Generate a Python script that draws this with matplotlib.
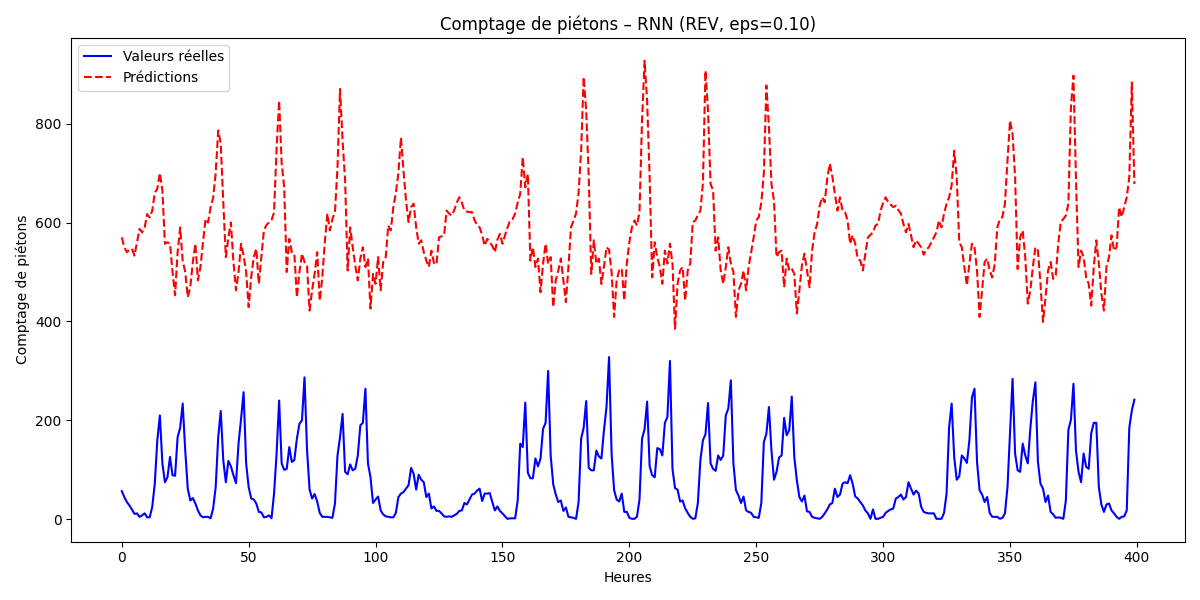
import numpy as np
import matplotlib
matplotlib.use("Agg")
import matplotlib.pyplot as plt

# valeurs (une valeur par heure, 0..399)
reel = [
  57, 45, 35, 28, 20, 11, 12, 5, 8, 12, 4, 4, 25, 72, 160, 210, 113, 75, 85, 126,
  89, 88, 166, 185, 234, 139, 62, 38, 43, 32, 18, 8, 4, 5, 5, 2, 22, 65, 166, 219,
  119, 75, 118, 107, 89, 73, 153, 203, 257, 113, 65, 42, 40, 32, 15, 14, 4, 5, 8, 2,
  52, 133, 240, 113, 100, 102, 146, 116, 120, 163, 193, 200, 287, 140, 60, 42, 51, 36, 13, 5,
  5, 5, 4, 3, 32, 129, 166, 213, 96, 91, 111, 99, 102, 129, 190, 195, 264, 113, 85, 33,
  40, 46, 18, 10, 6, 5, 4, 4, 13, 45, 52, 55, 62, 69, 104, 92, 60, 90, 80, 75,
  45, 52, 22, 26, 17, 17, 12, 6, 5, 6, 5, 8, 11, 17, 18, 33, 30, 40, 50, 52,
  58, 62, 37, 52, 52, 53, 35, 18, 26, 17, 12, 6, 1, 2, 2, 2, 38, 153, 146, 236,
  94, 83, 83, 123, 107, 123, 183, 195, 300, 129, 71, 50, 35, 38, 17, 24, 5, 4, 3, 1,
  35, 163, 185, 239, 104, 99, 99, 139, 127, 123, 180, 227, 328, 133, 59, 40, 36, 52, 15, 15,
  3, 1, 1, 5, 40, 163, 182, 238, 107, 89, 85, 144, 142, 129, 195, 207, 320, 102, 63, 60,
  36, 38, 22, 13, 5, 1, 2, 33, 120, 160, 172, 235, 113, 102, 98, 129, 120, 129, 210, 224,
  281, 113, 59, 48, 33, 46, 18, 15, 13, 5, 4, 3, 33, 156, 173, 227, 139, 80, 96, 125,
  129, 205, 170, 180, 248, 126, 79, 45, 36, 48, 16, 15, 5, 3, 2, 1, 5, 12, 20, 30,
  33, 62, 45, 50, 72, 75, 73, 89, 72, 46, 42, 35, 28, 18, 12, 1, 20, 1, 1, 3,
  5, 13, 17, 20, 22, 42, 45, 50, 40, 45, 75, 62, 50, 58, 52, 25, 15, 13, 12, 12,
  12, 1, 1, 1, 13, 52, 186, 234, 126, 80, 87, 129, 123, 114, 160, 246, 264, 116, 59, 50,
  35, 45, 13, 5, 5, 5, 1, 3, 12, 65, 173, 284, 133, 99, 96, 153, 129, 113, 183, 240,
  277, 116, 72, 62, 35, 48, 15, 10, 3, 4, 3, 1, 38, 181, 201, 274, 139, 96, 75, 133,
  106, 102, 174, 195, 195, 65, 30, 15, 30, 32, 18, 12, 5, 1, 5, 6, 18, 185, 220, 242,
]

predit = [
  570, 550, 540, 545, 547, 533, 560, 587, 580, 590, 617, 610, 624, 660, 668, 700, 665, 557, 560, 557,
  500, 453, 540, 590, 523, 500, 449, 470, 520, 557, 483, 510, 560, 607, 600, 631, 650, 700, 786, 759,
  640, 530, 570, 600, 520, 463, 500, 557, 533, 500, 429, 490, 530, 547, 476, 530, 584, 595, 600, 605,
  620, 750, 846, 720, 671, 500, 567, 540, 537, 449, 500, 537, 520, 512, 422, 463, 496, 540, 442, 489,
  560, 618, 584, 607, 621, 712, 870, 766, 685, 503, 590, 550, 513, 483, 527, 550, 510, 527, 426, 496,
  476, 530, 463, 520, 530, 594, 584, 631, 660, 700, 772, 705, 644, 601, 631, 638, 590, 557, 564, 540,
  523, 510, 543, 518, 515, 570, 572, 574, 624, 618, 614, 625, 640, 651, 640, 624, 622, 621, 621, 605,
  595, 590, 575, 553, 567, 560, 553, 540, 565, 577, 557, 574, 590, 604, 607, 618, 640, 658, 732, 671,
  698, 523, 550, 510, 527, 459, 517, 557, 517, 530, 429, 483, 503, 527, 483, 439, 510, 590, 604, 618,
  660, 745, 894, 826, 692, 496, 564, 517, 527, 476, 510, 550, 545, 500, 409, 483, 503, 507, 442, 517,
  560, 590, 604, 594, 621, 806, 927, 846, 692, 489, 560, 530, 510, 476, 543, 517, 557, 517, 385, 476,
  503, 510, 442, 503, 517, 601, 604, 615, 624, 680, 907, 826, 678, 665, 543, 570, 503, 476, 510, 550,
  517, 500, 409, 463, 476, 503, 463, 510, 540, 570, 604, 611, 640, 700, 877, 793, 678, 644, 530, 540,
  543, 469, 527, 503, 507, 496, 416, 463, 513, 537, 503, 469, 543, 580, 597, 634, 651, 641, 690, 719,
  692, 658, 624, 651, 624, 621, 604, 557, 574, 557, 527, 523, 503, 537, 570, 575, 580, 594, 597, 624,
  640, 651, 641, 636, 631, 634, 625, 618, 597, 580, 597, 574, 550, 564, 557, 550, 535, 545, 550, 560,
  570, 580, 604, 590, 618, 638, 651, 675, 745, 692, 560, 550, 510, 473, 517, 557, 550, 503, 409, 463,
  520, 527, 503, 489, 517, 590, 607, 611, 638, 725, 806, 779, 692, 506, 570, 584, 530, 436, 463, 510,
  550, 543, 476, 399, 449, 503, 520, 486, 493, 557, 601, 607, 614, 638, 833, 897, 685, 510, 543, 530,
  489, 476, 432, 510, 564, 517, 456, 422, 510, 530, 574, 543, 550, 631, 611, 631, 651, 692, 883, 678,
]

heures = np.arange(len(reel))

fig, ax = plt.subplots(figsize=(12, 6), dpi=100)
ax.plot(heures, reel, color="blue", label="Valeurs réelles")
ax.plot(heures, predit, "r--", label="Prédictions")
ax.set_title("Comptage de piétons – RNN (REV, eps=0.10)")
ax.set_xlabel("Heures")
ax.set_ylabel("Comptage de piétons")
ax.legend(loc="upper left")
plt.tight_layout()
plt.savefig("out.png")
